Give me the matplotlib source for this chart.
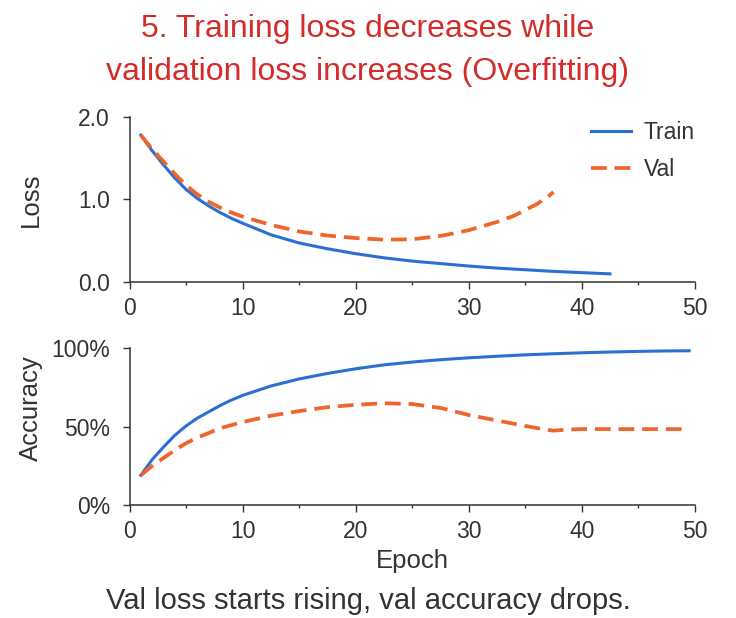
import matplotlib
matplotlib.use("Agg")
import matplotlib.pyplot as plt
from matplotlib.ticker import MultipleLocator, PercentFormatter, FormatStrFormatter

plt.rcParams['font.family'] = ['Liberation Sans', 'DejaVu Sans']

# values
loss_train_ep = [1, 2, 3, 4, 5, 6, 7, 8, 9, 10, 12.5, 15, 17.5, 20, 22.5, 25,
                 27.5, 30, 32.5, 35, 37.5, 40, 42.5]
loss_train = [1.78, 1.59, 1.42, 1.26, 1.12, 1.01, 0.92, 0.84, 0.77, 0.71, 0.57,
              0.47, 0.40, 0.34, 0.29, 0.25, 0.22, 0.19, 0.165, 0.145, 0.125,
              0.11, 0.095]

loss_val_ep = [1, 2, 3, 4, 5, 6, 7, 8, 9, 10, 12.5, 15, 17.5, 20, 22.5, 25,
               27.5, 30, 32.5, 34, 35, 36, 37, 37.5]
loss_val = [1.78, 1.61, 1.46, 1.31, 1.17, 1.06, 0.97, 0.90, 0.84, 0.79, 0.69,
            0.61, 0.56, 0.53, 0.51, 0.515, 0.555, 0.625, 0.725, 0.80, 0.87,
            0.94, 1.03, 1.09]

acc_train_ep = [1, 2, 3, 4, 5, 6, 7, 8, 9, 10, 12.5, 15, 17.5, 20, 22.5, 25,
                27.5, 30, 32.5, 35, 37.5, 40, 42.5, 45, 47.5, 49.5]
acc_train = [19, 29, 37, 44.5, 50.5, 55.5, 59.5, 63.5, 67, 70, 76, 80.5, 84, 87,
             89.5, 91.3, 92.8, 94, 95, 95.9, 96.6, 97.2, 97.7, 98.1, 98.4, 98.5]

acc_val_ep = [1, 2, 3, 4, 5, 6, 7, 8, 9, 10, 12.5, 15, 17.5, 20, 22.5, 25,
              27.5, 30, 32.5, 35, 36.5, 37.5, 39, 40, 45, 49.5]
acc_val = [19, 25, 30, 35, 39.5, 43, 46, 49, 51, 53, 57, 60, 62.5, 64, 65, 64.5,
           62, 57.5, 54, 50.5, 48.5, 47.5, 48.3, 48.5, 48.5, 48.5]

blue = '#2b6fd4'
orange = '#f0652b'
dark = '#333333'

fig = plt.figure(figsize=(7.36, 6.18), dpi=100)
ax1 = fig.add_axes([0.176, 0.5442, 0.768, 0.2665])
ax2 = fig.add_axes([0.176, 0.1828, 0.768, 0.2534])

ax1.plot(loss_train_ep, loss_train, color=blue, lw=2.2, label='Train')
ax1.plot(loss_val_ep, loss_val, color=orange, lw=2.7, dashes=(4.2, 2.1), label='Val')
ax2.plot(acc_train_ep, [a / 100 for a in acc_train], color=blue, lw=2.2)
ax2.plot(acc_val_ep, [a / 100 for a in acc_val], color=orange, lw=2.7, dashes=(4.2, 2.1))

ax1.set_ylim(0, 2)
ax1.set_yticks([0, 1, 2])
ax1.yaxis.set_major_formatter(FormatStrFormatter('%.1f'))
ax2.set_ylim(0, 1)
ax2.set_yticks([0, 0.5, 1])
ax2.yaxis.set_major_formatter(PercentFormatter(1.0, decimals=0))

for ax in (ax1, ax2):
    ax.set_xlim(0, 50)
    ax.xaxis.set_major_locator(MultipleLocator(10))
    ax.xaxis.set_minor_locator(MultipleLocator(5))
    for s in ('top', 'right'):
        ax.spines[s].set_visible(False)
    for s in ('left', 'bottom'):
        ax.spines[s].set_color(dark)
        ax.spines[s].set_linewidth(1.1)
    ax.tick_params(which='major', length=5, width=1.0, color=dark,
                   labelsize=16.5, labelcolor=dark, pad=6)
    ax.tick_params(which='minor', length=2.5, width=1.0, color=dark)
    ax.tick_params(axis='y', pad=9)

ax1.set_ylabel('Loss', fontsize=18.5, color=dark)
ax1.yaxis.set_label_coords(-0.153, 0.5)
ax2.set_ylabel('Accuracy', fontsize=18.5, color=dark)
ax2.yaxis.set_label_coords(-0.153, 0.62)
ax2.set_xlabel('Epoch', fontsize=18.5, color=dark)
ax2.xaxis.set_label_coords(0.5, -0.28)

ax1.legend(loc='upper right', bbox_to_anchor=(1.0, 0.975), frameon=False,
           fontsize=16.5, handlelength=1.75, handletextpad=0.55, labelspacing=0.6,
           borderpad=0, borderaxespad=0, labelcolor=dark)

red = '#d42b2b'
fig.text(0.5, 0.953, '5. Training loss decreases while', ha='center', va='center',
         fontsize=23, color=red)
fig.text(0.5, 0.884, 'validation loss increases (Overfitting)', ha='center',
         va='center', fontsize=23, color=red)
fig.text(0.5, 0.027, 'Val loss starts rising, val accuracy drops.', ha='center',
         va='center', fontsize=21, color=dark)

fig.savefig('out.png', dpi=100)
